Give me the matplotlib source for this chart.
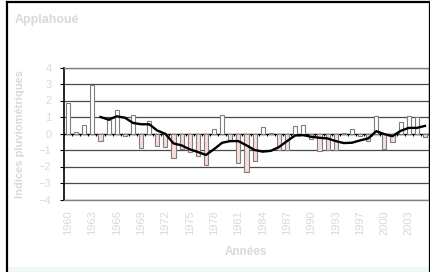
import numpy as np
import matplotlib
matplotlib.use("Agg")
import matplotlib.pyplot as plt
from matplotlib.patches import Rectangle
from matplotlib.lines import Line2D

plt.rcParams['font.family'] = ['Liberation Sans', 'DejaVu Sans']

# one year (1995) is missing in the series
years = list(range(1960, 1995)) + list(range(1996, 2006))
indices = [1.85, 0.07, 0.50, 2.95, -0.45, 0.80, 1.42, -0.15, 1.15, -0.90,
           0.75, -0.75, -0.80, -1.50, -0.95, -1.12, -1.35, -1.92, 0.27, 1.14,
           -0.45, -1.80, -2.36, -1.64, 0.40, 0.05, -0.98, -0.98, 0.44, 0.50,
           -0.36, -1.06, -1.00, -0.98, 0.05, 0.30, -0.15, -0.48, 1.08, -0.96,
           -0.50, 0.72, 1.08, 0.98, -0.24]
# smoothed curve (starts at 1964)
trend_start = 4
trend = [1.00, 0.84, 1.04, 0.96, 0.64, 0.56, 0.56, 0.18, -0.02, -0.60,
         -0.72, -0.96, -1.12, -1.30, -0.95, -0.56, -0.46, -0.46, -0.72, -1.00,
         -1.10, -1.05, -0.82, -0.46, -0.12, -0.10, -0.20, -0.26, -0.30, -0.46,
         -0.58, -0.56, -0.42, -0.30, 0.14, -0.04, -0.16, 0.16, 0.34, 0.34, 0.46]

W, H = 431, 272
fig = plt.figure(figsize=(W / 100, H / 100), dpi=100)
fig.patch.set_facecolor("white")

# pale strip at the very bottom and the black chart border
fig.add_artist(Rectangle((8 / W, 0), 1 - 8 / W, 5 / H, transform=fig.transFigure,
                         facecolor="#F1F8F8", edgecolor="none", zorder=0))
for xs, ys in [([7.5 / W, 7.5 / W], [0, 1 - 2 / H]),
               ([7.5 / W, 430 / W], [1 - 2 / H, 1 - 2 / H]),
               ([430 / W, 430 / W], [0, 1 - 2 / H])]:
    fig.add_artist(Line2D(xs, ys, transform=fig.transFigure, color="black", lw=1.6))

ax = fig.add_axes([64 / W, 1 - 199.5 / H, (429 - 64) / W, (199.5 - 67.5) / H])
x = np.arange(len(years))
vals = np.array(indices)
colors = np.where(vals >= 0, "white", "#FBDCDC")
ax.bar(x, vals, width=0.5, color=colors, edgecolor="#7f7f7f", linewidth=0.8, zorder=3)
ax.plot(x[trend_start:trend_start + len(trend)], trend, color="black", lw=1.7, zorder=4)

# category tick marks on the zero axis
ax.vlines(np.arange(len(years) + 1) - 0.5, 0, -0.18, color="black", lw=0.7, zorder=3)

ax.set_xlim(-0.5, len(years) - 0.5)
ax.set_ylim(-4, 4)
ax.set_yticks(range(-4, 5))
ax.yaxis.grid(True, color="#4a4a4a", lw=0.9, zorder=0)
ax.axhline(0, color="black", lw=0.9, zorder=2)
ax.set_axisbelow(True)

lab_idx = list(range(0, len(years), 3))
ax.set_xticks(lab_idx)
ax.set_xticklabels([str(years[i]) for i in lab_idx], rotation=90)

light = "#D9D9D9"
ax.tick_params(axis="x", length=0, pad=8, labelsize=8, labelcolor=light)
ax.tick_params(axis="y", direction="out", length=3, width=0.8, color="black",
               pad=6, labelsize=8, labelcolor=light)
ax.spines["left"].set_color("black")
ax.spines["left"].set_linewidth(1.2)
for s in ["bottom", "right", "top"]:
    ax.spines[s].set_color("#808080")
    ax.spines[s].set_linewidth(1.0)

fig.text(15 / W, 1 - 20 / H, "Applahoué", fontsize=9, fontweight="bold",
         color=light, ha="left", va="center")
fig.text(20 / W, 1 - 134 / H, "Indices pluviométriques", fontsize=8, fontweight="bold",
         color=light, rotation=90, ha="center", va="center")
fig.text(246 / W, 1 - 252 / H, "Années", fontsize=8.5, fontweight="bold",
         color=light, ha="center", va="center")

fig.savefig("out.png", dpi=100)
